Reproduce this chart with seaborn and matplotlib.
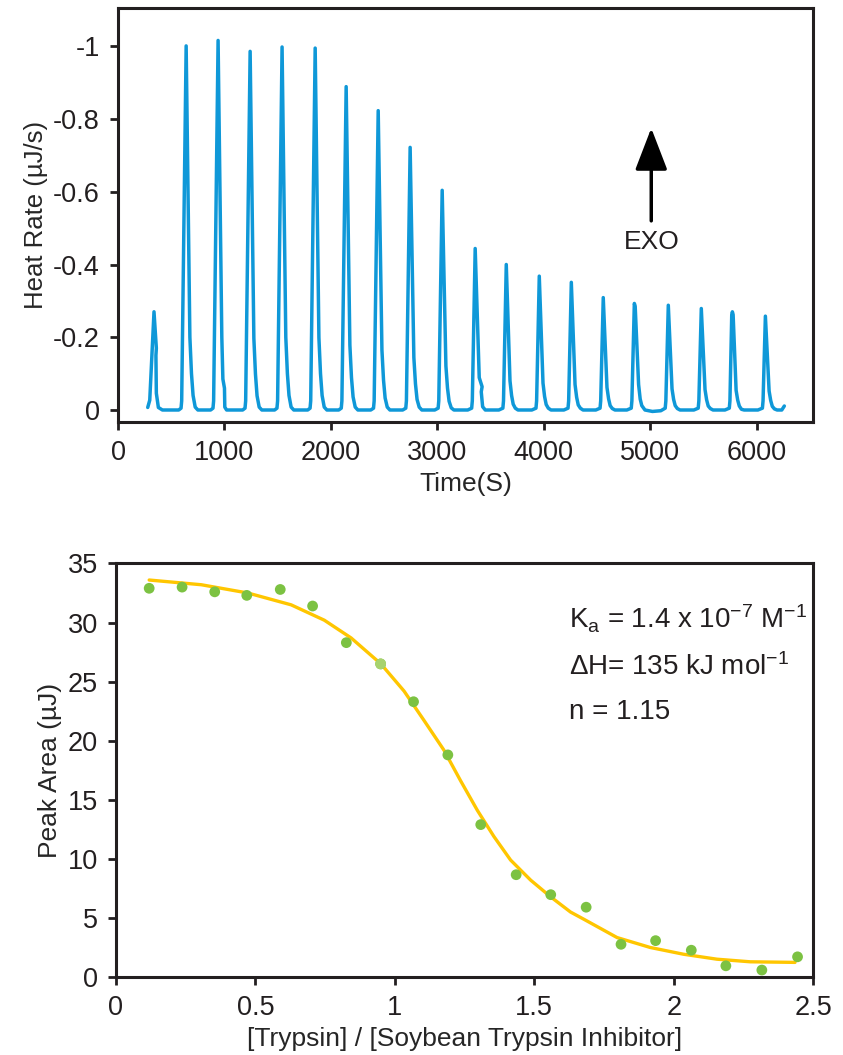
import matplotlib
matplotlib.use('Agg')
import matplotlib.pyplot as plt
from matplotlib import font_manager
import seaborn as sns

# ---- top panel: raw ITC trace, one row per injection (time s, heat rate uJ/s)
trace_time = [
    [279, 298, 338, 360, 356, 360, 379, 417],
    [570, 592, 598, 640, 675, 690, 705, 725, 750],
    [870, 892, 898, 940, 975, 985, 1000, 1003, 1020, 1050],
    [1171, 1193, 1199, 1241, 1276, 1291, 1306, 1326, 1351],
    [1471, 1493, 1499, 1541, 1576, 1591, 1606, 1626, 1651],
    [1782, 1804, 1810, 1852, 1887, 1902, 1917, 1937, 1962],
    [2073, 2097, 2103, 2143, 2178, 2193, 2208, 2228, 2253],
    [2374, 2400, 2406, 2444, 2479, 2494, 2509, 2529, 2554],
    [2674, 2703, 2709, 2744, 2779, 2794, 2809, 2829, 2854],
    [2975, 3007, 3013, 3045, 3080, 3095, 3110, 3130, 3155],
    [3285, 3322, 3328, 3355, 3393, 3420, 3412, 3425, 3450],
    [3577, 3615, 3621, 3647, 3682, 3697, 3712, 3732, 3757],
    [3887, 3926, 3932, 3957, 3992, 4007, 4022, 4042, 4067],
    [4188, 4227, 4233, 4258, 4293, 4308, 4323, 4343, 4368],
    [4488, 4528, 4534, 4558, 4593, 4608, 4623, 4643, 4668],
    [4780, 4821, 4827, 4850, 4858, 4890, 4905, 4920, 4950, 5020],
    [5099, 5140, 5146, 5169, 5204, 5219, 5234, 5254, 5279],
    [5409, 5450, 5456, 5479, 5514, 5529, 5544, 5564, 5589],
    [5701, 5742, 5748, 5765, 5771, 5778, 5806, 5821, 5836, 5856, 5881],
    [6011, 6053, 6059, 6081, 6116, 6131, 6146, 6166, 6191, 6235, 6259],
]
trace_rate = [
    [-0.007, -0.027, -0.270, -0.170, -0.150, -0.046, -0.007, 0.0],
    [0.0, -0.005, -0.025, -1.001, -0.200, -0.100, -0.040, -0.008, 0.0],
    [0.0, -0.005, -0.025, -1.016, -0.200, -0.085, -0.060, -0.008, 0.0, 0.0],
    [0.0, -0.005, -0.025, -0.986, -0.197, -0.099, -0.039, -0.008, 0.0],
    [0.0, -0.005, -0.025, -0.998, -0.200, -0.100, -0.040, -0.008, 0.0],
    [0.0, -0.005, -0.025, -0.995, -0.199, -0.100, -0.040, -0.008, 0.0],
    [0.0, -0.005, -0.025, -0.889, -0.178, -0.089, -0.036, -0.008, 0.0],
    [0.0, -0.005, -0.025, -0.823, -0.165, -0.082, -0.033, -0.008, 0.0],
    [0.0, -0.005, -0.025, -0.722, -0.144, -0.072, -0.029, -0.008, 0.0],
    [0.0, -0.005, -0.025, -0.604, -0.121, -0.060, -0.024, -0.006, 0.0],
    [0.0, -0.005, -0.025, -0.444, -0.089, -0.064, -0.050, -0.009, 0.0],
    [0.0, -0.005, -0.025, -0.400, -0.080, -0.040, -0.016, -0.005, 0.0],
    [0.0, -0.005, -0.025, -0.368, -0.074, -0.037, -0.015, -0.005, 0.0],
    [0.0, -0.005, -0.025, -0.351, -0.070, -0.035, -0.014, -0.005, 0.0],
    [0.0, -0.005, -0.025, -0.309, -0.062, -0.031, -0.012, -0.004, 0.0],
    [0.0, -0.005, -0.025, -0.293, -0.285, -0.070, -0.030, -0.012, 0.0, 0.004],
    [0.002, -0.005, -0.025, -0.288, -0.058, -0.029, -0.012, -0.004, 0.0],
    [0.0, -0.005, -0.025, -0.279, -0.056, -0.028, -0.011, -0.004, 0.0],
    [0.0, -0.005, -0.025, -0.262, -0.270, -0.262, -0.054, -0.027, -0.011, -0.002, 0.0],
    [0.0, -0.005, -0.025, -0.258, -0.052, -0.026, -0.010, -0.003, 0.0, 0.0, -0.011],
]
time_ticks = [0, 1000, 2000, 3000, 4000, 5000, 6000]
rate_ticks = [0, -0.2, -0.4, -0.6, -0.8, -1]
rate_labels = ['0', '-0.2', '-0.4', '-0.6', '-0.8', '-1']

# ---- bottom panel: integrated peaks and fitted binding curve
ratio = [0.119, 0.237, 0.354, 0.469, 0.589, 0.705, 0.826, 0.949, 1.067, 1.190,
         1.308, 1.435, 1.559, 1.686, 1.811, 1.935, 2.063, 2.187, 2.316, 2.444]
peak_area = [32.9, 33.0, 32.6, 32.3, 32.8, 31.4, 28.3, 26.5, 23.3, 18.8,
             12.9, 8.66, 6.97, 5.91, 2.77, 3.08, 2.27, 0.95, 0.59, 1.71]
fit_x = [0.119, 0.306, 0.473, 0.628, 0.747, 0.843, 0.950, 1.033, 1.105,
         1.176, 1.236, 1.296, 1.355, 1.415, 1.487, 1.558, 1.630, 1.677, 1.797,
         1.916, 2.035, 2.155, 2.274, 2.435]
fit_y = [33.6, 33.2, 32.5, 31.5, 30.2, 28.7, 26.5, 24.2, 21.7,
         19.2, 16.6, 14.1, 11.9, 9.9, 8.2, 6.8, 5.5, 4.9, 3.34,
         2.50, 1.93, 1.51, 1.29, 1.24]
ratio_ticks = [0, 0.5, 1, 1.5, 2, 2.5]
ratio_labels = ['0', '0.5', '1', '1.5', '2', '2.5']
area_ticks = [0, 5, 10, 15, 20, 25, 30, 35]

BLUE = '#0f98d8'
YELLOW = '#ffc600'
GREEN = '#7cc242'
LIGHT_GREEN = '#a8d26e'
INK = '#231f20'

sns.set_style('white')
installed = {f.name for f in font_manager.fontManager.ttflist}
face = 'Liberation Sans Narrow' if 'Liberation Sans Narrow' in installed else 'Liberation Sans'
plt.rcParams['font.family'] = [face, 'DejaVu Sans']
plt.rcParams['mathtext.fontset'] = 'custom'
plt.rcParams['mathtext.rm'] = face
plt.rcParams['mathtext.it'] = face + ':italic'
plt.rcParams['text.color'] = INK

fig = plt.figure(figsize=(8.43, 10.55), dpi=100)
ax1 = fig.add_axes([0.140, 0.600, 0.824, 0.392])
ax2 = fig.add_axes([0.1376, 0.0739, 0.827, 0.392])

t_all = sum(trace_time, [])
r_all = sum(trace_rate, [])
sns.lineplot(x=t_all, y=r_all, ax=ax1, sort=False, estimator=None,
             color=BLUE, lw=2.5)
ax1.set_xlim(0, 6525)
ax1.set_ylim(0.033, -1.104)
ax1.set_xticks(time_ticks)
ax1.set_yticks(rate_ticks, rate_labels)
ax1.set_xlabel('Time(S)', fontsize=19)
ax1.set_ylabel('Heat Rate (\u00b5J/s)', fontsize=18.5)
ax1.annotate('', xy=(5009, -0.775), xytext=(5009, -0.52),
             arrowprops=dict(arrowstyle='-|>,head_length=1.3,head_width=0.5',
                             mutation_scale=20, lw=2.5, color='black',
                             shrinkA=0, shrinkB=0))
ax1.text(5009, -0.462, 'EXO', ha='center', va='center', fontsize=19)

sns.lineplot(x=fit_x, y=fit_y, ax=ax2, sort=False, estimator=None,
             color=YELLOW, lw=2.4, zorder=2)
sns.scatterplot(x=ratio, y=peak_area, ax=ax2, color=GREEN, s=60,
                edgecolor='none', zorder=3)
sns.scatterplot(x=ratio[7:8], y=peak_area[7:8], ax=ax2, color=LIGHT_GREEN,
                s=60, edgecolor='none', zorder=4)
ax2.set_xlim(0, 2.5)
ax2.set_ylim(0, 35)
ax2.set_xticks(ratio_ticks, ratio_labels)
ax2.set_yticks(area_ticks)
ax2.set_xlabel('[Trypsin] / [Soybean Trypsin Inhibitor]', fontsize=19)
ax2.set_ylabel('Peak Area (\u00b5J)', fontsize=19)
ax2.text(1.623, 29.5, r'K$_{\mathrm{a}}$ = 1.4 x 10$^{-7}$ M$^{-1}$', fontsize=20)
ax2.text(1.623, 25.6, '\u0394H= 135 kJ mol$^{-1}$', fontsize=20)
ax2.text(1.623, 21.8, 'n = 1.15', fontsize=20)

for ax in (ax1, ax2):
    for sp in ax.spines.values():
        sp.set_linewidth(2.2)
        sp.set_color(INK)
    ax.tick_params(direction='out', length=6, width=2, color=INK,
                   labelsize=19.5, pad=7, labelcolor=INK)
    ax.tick_params(axis='x', bottom=True)
    ax.tick_params(axis='y', left=True)

fig.savefig('out.png', dpi=100)
